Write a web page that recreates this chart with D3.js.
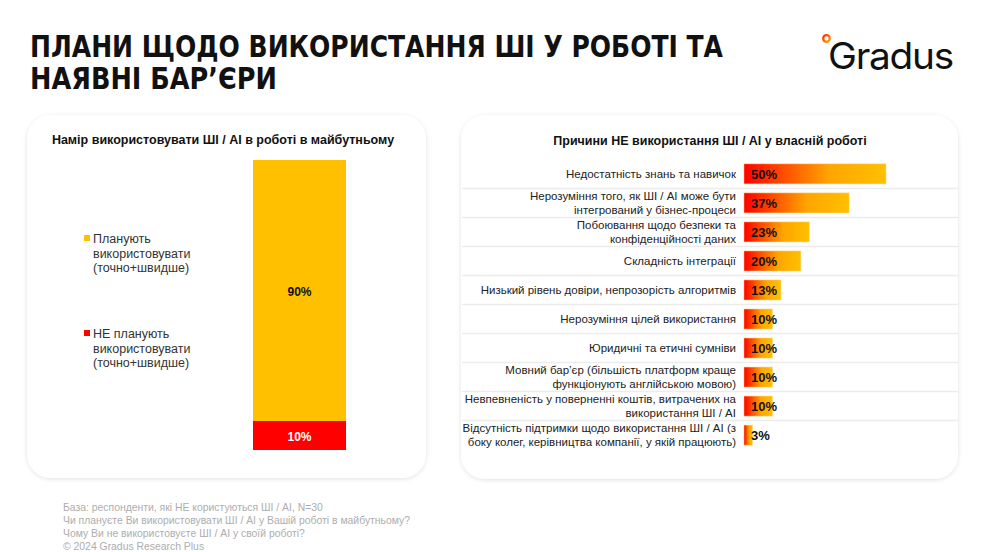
<!DOCTYPE html>
<html><head><meta charset="utf-8">
<script src="https://cdn.jsdelivr.net/npm/d3@7"></script>
<style>
html,body{margin:0;padding:0;background:#fff;}
svg{display:block;}
</style></head>
<body>
<script>
// ---- data ----
const titleLines = ["ПЛАНИ ЩОДО ВИКОРИСТАННЯ ШІ У РОБОТІ ТА", "НАЯВНІ БАР’ЄРИ"];
const leftTitle = "Намір використовувати ШІ / AI в роботі в майбутньому";
const intentCategories = ["Планують використовувати (точно+швидше)", "НЕ планують використовувати (точно+швидше)"];
const intentLegendLines = [["Планують", "використовувати", "(точно+швидше)"], ["НЕ планують", "використовувати", "(точно+швидше)"]];
const intentValues = [90, 10];
const intentColors = ["#FFC000", "#FF0000"];

const rightTitle = "Причини НЕ використання ШІ / AI у власній роботі";
const reasonLabels = [
  ["Недостатність знань та навичок"],
  ["Нерозуміння того, як ШІ / AI може бути", "інтегрований у бізнес-процеси"],
  ["Побоювання щодо безпеки та", "конфіденційності даних"],
  ["Складність інтеграції"],
  ["Низький рівень довіри, непрозорість алгоритмів"],
  ["Нерозуміння цілей використання"],
  ["Юридичні та етичні сумніви"],
  ["Мовний бар’єр (більшість платформ краще", "функціонують англійською мовою)"],
  ["Невпевненість у поверненні коштів, витрачених на", "використання ШІ / AI"],
  ["Відсутність підтримки щодо використання ШІ / AI (з", "боку колег, керівництва компанії, у якій працюють)"]
];
const reasonValues = [50, 37, 23, 20, 13, 10, 10, 10, 10, 3];

const footnotes = [
  "База: респонденти, які НЕ користуються ШІ / AI, N=30",
  "Чи плануєте Ви використовувати ШІ / AI у Вашій роботі в майбутньому?",
  "Чому Ви не використовуєте ШІ / AI у своїй роботі?",
  "© 2024 Gradus Research Plus"
];

const W = 990, H = 552;
const svg = d3.select("body").append("svg").attr("width", W).attr("height", H);
const defs = svg.append("defs");

const shadow = defs.append("filter").attr("id", "sh").attr("x", "-10%").attr("y", "-10%").attr("width", "120%").attr("height", "120%");
shadow.append("feDropShadow").attr("dx", 0).attr("dy", 1).attr("stdDeviation", 2).attr("flood-color", "#000").attr("flood-opacity", 0.12);

const grad = defs.append("linearGradient").attr("id", "barGrad").attr("x1", "0").attr("x2", "1").attr("y1", "0").attr("y2", "0");
grad.append("stop").attr("offset", "0%").attr("stop-color", "#FF0000");
grad.append("stop").attr("offset", "60%").attr("stop-color", "#FFA500");
grad.append("stop").attr("offset", "100%").attr("stop-color", "#FFC000");

const logoGrad = defs.append("linearGradient").attr("id", "logoGrad").attr("x1", "0").attr("x2", "1").attr("y1", "0").attr("y2", "1");
logoGrad.append("stop").attr("offset", "0%").attr("stop-color", "#FF2A00");
logoGrad.append("stop").attr("offset", "100%").attr("stop-color", "#FFA800");

// ---- title ----
const titleWidths = [693, 247];
const tt = svg.append("text").attr("font-family", "'Liberation Sans Narrow','DejaVu Sans Condensed',sans-serif")
  .attr("font-weight", "bold").attr("font-size", 29.5).attr("fill", "#111");
titleLines.forEach((l, i) => tt.append("tspan").attr("x", 30).attr("y", 57 + i * 32)
  .attr("textLength", titleWidths[i]).attr("lengthAdjust", "spacingAndGlyphs").text(l));

// ---- logo ----
svg.append("circle").attr("cx", 826.5).attr("cy", 38.5).attr("r", 3.3).attr("fill", "none").attr("stroke", "url(#logoGrad)").attr("stroke-width", 2.3);
svg.append("text").attr("x", 828).attr("y", 69).attr("font-family", "Inter, Lato, sans-serif").attr("font-size", 37)
  .attr("font-weight", 400).attr("letter-spacing", -1.2).attr("fill", "#111")
  .attr("textLength", 125).attr("lengthAdjust", "spacingAndGlyphs").text("Gradus");

// ---- cards ----
svg.append("rect").attr("x", 27).attr("y", 115).attr("width", 399).attr("height", 363).attr("rx", 24).attr("fill", "#fff").attr("filter", "url(#sh)");
svg.append("rect").attr("x", 461).attr("y", 115).attr("width", 497).attr("height", 364).attr("rx", 24).attr("fill", "#fff").attr("filter", "url(#sh)");

const FONT = "'Liberation Sans', Arial, sans-serif";

// ---- left chart ----
svg.append("text").attr("x", 223).attr("y", 144).attr("text-anchor", "middle").attr("font-family", FONT)
  .attr("font-weight", "bold").attr("font-size", 12.5).attr("fill", "#111").text(leftTitle);

const y = d3.scaleLinear().domain([0, 100]).range([450, 160]);
const xL = d3.scaleBand().domain(["all"]).range([253, 346]).padding(0);
const stackData = [{ key: "all", plan: intentValues[0], notplan: intentValues[1] }];
const stack = d3.stack().keys(["notplan", "plan"])(stackData);
const stackColor = { plan: intentColors[0], notplan: intentColors[1] };
const stackVal = { plan: intentValues[0], notplan: intentValues[1] };
stack.forEach(s => {
  s.forEach(d => {
    svg.append("rect").attr("x", xL("all")).attr("width", xL.bandwidth())
      .attr("y", y(d[1])).attr("height", y(d[0]) - y(d[1])).attr("fill", stackColor[s.key]);
    svg.append("text").attr("x", xL("all") + xL.bandwidth() / 2).attr("y", (y(d[0]) + y(d[1])) / 2 + 5)
      .attr("text-anchor", "middle").attr("font-family", FONT).attr("font-weight", "bold").attr("font-size", 12)
      .attr("fill", s.key === "plan" ? "#111" : "#fff").text(stackVal[s.key] + "%");
  });
});

// legend
intentLegendLines.forEach((lines, i) => {
  const y0 = 243 + i * 95;
  svg.append("rect").attr("x", 84).attr("y", y0 - 8).attr("width", 6).attr("height", 6).attr("fill", intentColors[i]);
  const t = svg.append("text").attr("font-family", FONT).attr("font-size", 12.5).attr("fill", "#333");
  lines.forEach((l, j) => t.append("tspan").attr("x", 93).attr("y", y0 + j * 14.5).text(l));
});

// ---- right chart ----
svg.append("text").attr("x", 710).attr("y", 145).attr("text-anchor", "middle").attr("font-family", FONT)
  .attr("font-weight", "bold").attr("font-size", 12.5).attr("fill", "#111").text(rightTitle);

const idx = reasonValues.map((d, i) => i);
const yb = d3.scaleBand().domain(idx).range([159.5, 449.5]).paddingInner(0.31).paddingOuter(0.15);
const xr = d3.scaleLinear().domain([0, 50]).range([744, 886]);
const step = yb.step();

// separators
idx.slice(0, -1).forEach(i => {
  const sy = yb(i) + yb.bandwidth() / 2 + step / 2;
  svg.append("line").attr("x1", 462).attr("x2", 958).attr("y1", sy).attr("y2", sy).attr("stroke", "#ececec").attr("stroke-width", 1.5);
});

const rows = svg.selectAll("g.row").data(reasonValues).join("g").attr("class", "row");
rows.append("rect").attr("x", xr(0)).attr("y", (d, i) => yb(i)).attr("width", d => xr(d) - xr(0)).attr("height", yb.bandwidth())
  .attr("fill", "url(#barGrad)").attr("stroke", "#ffd36a").attr("stroke-opacity", 0.6).attr("stroke-width", 0.8);
rows.append("text").attr("x", 751).attr("y", (d, i) => yb(i) + yb.bandwidth() / 2 + 5)
  .attr("font-family", FONT).attr("font-weight", "bold").attr("font-size", 13).attr("fill", "#111").text(d => d + "%");
rows.each(function (d, i) {
  const lines = reasonLabels[i];
  const cy = yb(i) + yb.bandwidth() / 2;
  const t = d3.select(this).append("text").attr("text-anchor", "end").attr("font-family", FONT).attr("font-size", 11.5).attr("fill", "#222");
  const lh = 14;
  lines.forEach((l, j) => t.append("tspan").attr("x", 736).attr("y", cy + 4 + (j - (lines.length - 1) / 2) * lh).text(l));
});

// ---- footnotes ----
const ft = svg.append("text").attr("font-family", FONT).attr("font-size", 10.4).attr("fill", "#adadad");
footnotes.forEach((l, i) => ft.append("tspan").attr("x", 63).attr("y", 511 + i * 13).text(l));
</script>
</body></html>
